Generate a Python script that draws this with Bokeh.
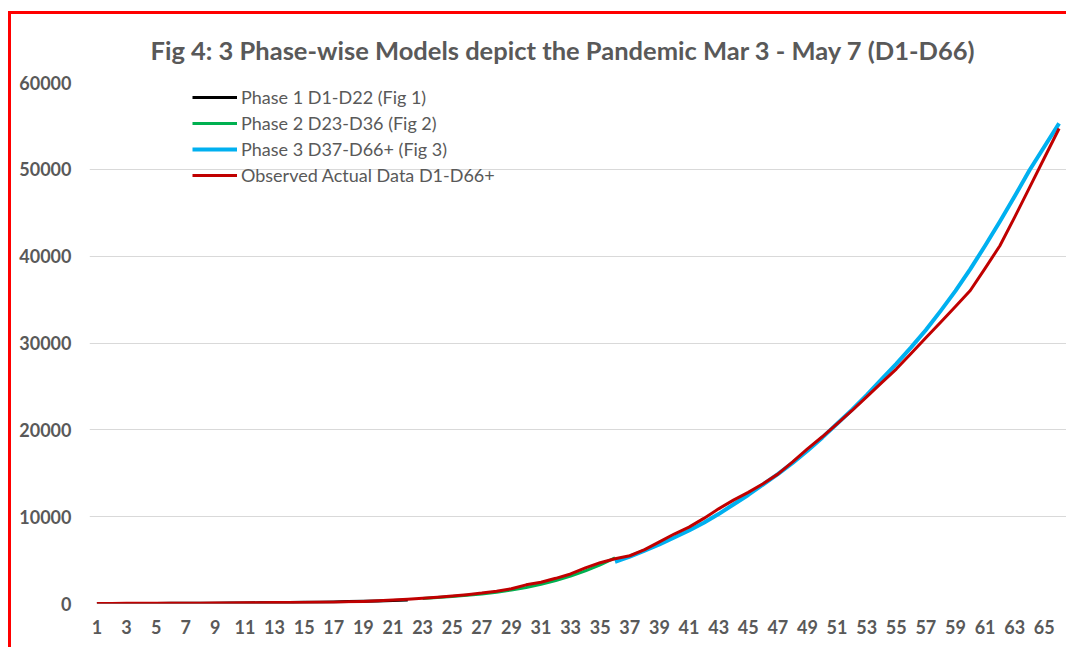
from bokeh.plotting import figure
from bokeh.models import Legend, LegendItem, FixedTicker, Range1d
from bokeh.embed import file_html
from bokeh.resources import INLINE

title_text = "Fig 4: 3 Phase-wise Models depict the Pandemic Mar 3 - May 7 (D1-D66)"

days = list(range(1, 67))
observed = [5, 6, 28, 30, 31, 34, 39, 43, 56, 62, 73, 82, 102, 113, 119, 142, 156, 194, 244, 330,
            396, 499, 600, 720, 870, 1020, 1200, 1420, 1700, 2150, 2450, 2900, 3400, 4100, 4700, 5150,
            5500, 6200, 7100, 8000, 8800, 9800, 10900, 11900, 12800, 13800, 14900, 16300, 17800, 19200,
            20700, 22200, 23800, 25400, 27000, 28800, 30600, 32400, 34200, 36050, 38600, 41200, 44500,
            47900, 51300, 54700]

phase1_days = list(range(1, 23))
phase1 = [2, 4, 7, 10, 14, 19, 25, 32, 41, 51, 63, 77, 93, 111, 132, 156, 184, 216, 253, 296, 345, 400]

phase2_days = list(range(23, 37))
phase2 = [580, 680, 800, 940, 1100, 1300, 1550, 1850, 2200, 2650, 3150, 3750, 4450, 5250]

phase3_days = list(range(36, 67))
phase3 = [4800, 5400, 6100, 6800, 7600, 8400, 9300, 10300, 11400, 12500, 13700, 14900, 16200, 17600,
          19100, 20700, 22300, 24000, 25800, 27600, 29500, 31500, 33700, 36000, 38500, 41200, 44000,
          46900, 49900, 52600, 55300]

x_ticks = list(range(1, 67, 2))
y_ticks = [0, 10000, 20000, 30000, 40000, 50000, 60000]

series_labels = ["Phase 1 D1-D22 (Fig 1)", "Phase 2 D23-D36 (Fig 2)",
                 "Phase 3 D37-D66+ (Fig 3)", "Observed Actual Data D1-D66+"]

TXT = "#595959"

p = figure(width=1058, height=636, output_backend="svg", toolbar_location=None,
           x_range=Range1d(0.5, 66.5), y_range=Range1d(0, 60000),
           min_border_left=78, min_border_right=3, min_border_top=68, min_border_bottom=47)
p.styles = {"border-left": "3px solid #FF0000", "border-top": "3px solid #FF0000",
            "margin-top": "11px", "margin-left": "8px"}
p.background_fill_color = "white"
p.border_fill_color = "white"
p.outline_line_color = None

p.title.text = title_text
p.title.align = "left"
p.title.offset = 61
p.title.text_font = "Lato"
p.title.text_font_size = "25.5px"
p.title.text_font_style = "bold"
p.title.text_color = TXT
p.title.standoff = 36

r1 = p.line(phase1_days, phase1, line_color="#000000", line_width=3, line_join="round")
r2 = p.line(phase2_days, phase2, line_color="#00B050", line_width=3, line_join="round")
r3 = p.line(phase3_days, phase3, line_color="#00B0F0", line_width=4, line_join="round")
r4 = p.line(days, observed, line_color="#C00000", line_width=3, line_join="round")

p.xaxis.ticker = FixedTicker(ticks=x_ticks)
p.yaxis.ticker = FixedTicker(ticks=y_ticks)
for ax in (p.xaxis[0], p.yaxis[0]):
    ax.axis_line_color = None
    ax.major_tick_line_color = None
    ax.minor_tick_line_color = None
    ax.major_tick_out = 0
    ax.major_tick_in = 0
    ax.major_label_text_font = "Lato"
    ax.major_label_text_font_size = "18px"
    ax.major_label_text_font_style = "bold"
    ax.major_label_text_color = TXT
p.xaxis.major_label_standoff = 16
p.yaxis.major_label_standoff = 18

p.xgrid.grid_line_color = None
p.ygrid.grid_line_color = "#D9D9D9"
p.ygrid.grid_line_width = 1

legend = Legend(items=[LegendItem(label=series_labels[0], renderers=[r1]),
                       LegendItem(label=series_labels[1], renderers=[r2]),
                       LegendItem(label=series_labels[2], renderers=[r3]),
                       LegendItem(label=series_labels[3], renderers=[r4])],
                location=(103, 415))
legend.glyph_width = 45
legend.glyph_height = 26
legend.label_height = 26
legend.spacing = 0
legend.padding = 0
legend.margin = 0
legend.label_standoff = 4
legend.border_line_color = None
legend.background_fill_alpha = 0
legend.label_text_font = "Lato"
legend.label_text_font_size = "18px"
legend.label_text_color = TXT
p.add_layout(legend)

open("out.html", "w").write(file_html(p, INLINE))
